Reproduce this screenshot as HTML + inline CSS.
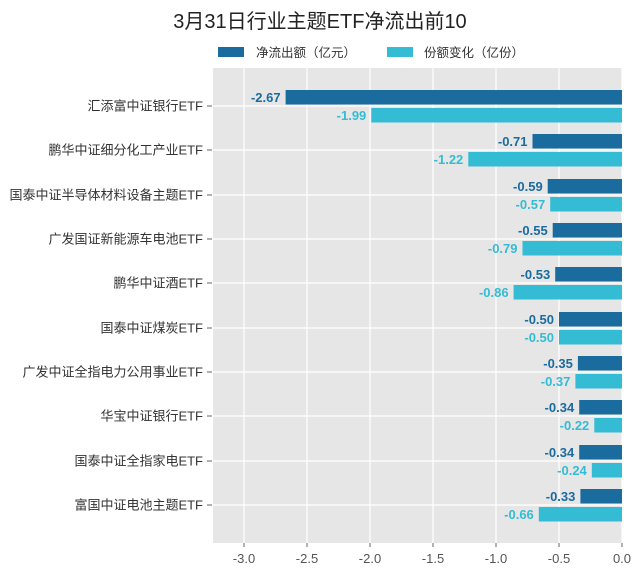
<!DOCTYPE html>
<html><head><meta charset="utf-8"><style>
body{margin:0;background:#fff;}
svg{display:block;font-family:"Liberation Sans","Noto Sans CJK SC",sans-serif;}
</style></head><body>
<svg width="640" height="578" xmlns="http://www.w3.org/2000/svg">
<rect width="640" height="578" fill="#fff"/>
<text x="320" y="28" font-size="20" text-anchor="middle" fill="#222">3月31日行业主题ETF净流出前10</text>
<rect x="218" y="47" width="26" height="10" fill="#1a6b9e"/>
<text x="256" y="57" font-size="12.5" fill="#333">净流出额（亿元）</text>
<rect x="387" y="47" width="26" height="10" fill="#33bcd4"/>
<text x="424" y="57" font-size="12.5" fill="#333">份额变化（亿份）</text>
<rect x="213" y="68" width="409" height="475" fill="#e6e6e6"/>
<g stroke="#fff" stroke-width="1.2">
<line x1="244" y1="68" x2="244" y2="543"/><line x1="307" y1="68" x2="307" y2="543"/>
<line x1="370" y1="68" x2="370" y2="543"/><line x1="433" y1="68" x2="433" y2="543"/>
<line x1="496" y1="68" x2="496" y2="543"/><line x1="559" y1="68" x2="559" y2="543"/>
<line x1="622" y1="68" x2="622" y2="543"/>
<line x1="213" x2="622" y1="106" y2="106"/><line x1="213" x2="622" y1="150" y2="150"/>
<line x1="213" x2="622" y1="195" y2="195"/><line x1="213" x2="622" y1="239" y2="239"/>
<line x1="213" x2="622" y1="283" y2="283"/><line x1="213" x2="622" y1="328" y2="328"/>
<line x1="213" x2="622" y1="372" y2="372"/><line x1="213" x2="622" y1="416" y2="416"/>
<line x1="213" x2="622" y1="461" y2="461"/><line x1="213" x2="622" y1="505" y2="505"/>
</g>
<g stroke="#666" stroke-width="1">
<line x1="244" y1="543" x2="244" y2="547"/><line x1="307" y1="543" x2="307" y2="547"/>
<line x1="370" y1="543" x2="370" y2="547"/><line x1="433" y1="543" x2="433" y2="547"/>
<line x1="496" y1="543" x2="496" y2="547"/><line x1="559" y1="543" x2="559" y2="547"/>
<line x1="622" y1="543" x2="622" y2="547"/>
<line x1="207" x2="212" y1="106" y2="106"/><line x1="207" x2="212" y1="150" y2="150"/>
<line x1="207" x2="212" y1="195" y2="195"/><line x1="207" x2="212" y1="239" y2="239"/>
<line x1="207" x2="212" y1="283" y2="283"/><line x1="207" x2="212" y1="328" y2="328"/>
<line x1="207" x2="212" y1="372" y2="372"/><line x1="207" x2="212" y1="416" y2="416"/>
<line x1="207" x2="212" y1="461" y2="461"/><line x1="207" x2="212" y1="505" y2="505"/>
</g>
<g font-size="13" fill="#555" text-anchor="middle">
<text x="244" y="563">-3.0</text><text x="307" y="563">-2.5</text><text x="370" y="563">-2.0</text>
<text x="433" y="563">-1.5</text><text x="496" y="563">-1.0</text><text x="559" y="563">-0.5</text>
<text x="622" y="563">0.0</text>
</g>
<g font-size="13" fill="#333" text-anchor="end">
<text x="203" y="110.5">汇添富中证银行ETF</text>
<text x="203" y="154.5">鹏华中证细分化工产业ETF</text>
<text x="203" y="199.5">国泰中证半导体材料设备主题ETF</text>
<text x="203" y="243.5">广发国证新能源车电池ETF</text>
<text x="203" y="287.5">鹏华中证酒ETF</text>
<text x="203" y="332.5">国泰中证煤炭ETF</text>
<text x="203" y="376.5">广发中证全指电力公用事业ETF</text>
<text x="203" y="420.5">华宝中证银行ETF</text>
<text x="203" y="465.5">国泰中证全指家电ETF</text>
<text x="203" y="509.5">富国中证电池主题ETF</text>
</g>
<g fill="#1a6b9e">
<rect x="285.6" y="90" width="336.4" height="14.5"/>
<rect x="532.5" y="134" width="89.5" height="14.5"/>
<rect x="547.7" y="179" width="74.3" height="14.5"/>
<rect x="552.7" y="223" width="69.3" height="14.5"/>
<rect x="555.2" y="267" width="66.8" height="14.5"/>
<rect x="559" y="312" width="63" height="14.5"/>
<rect x="577.9" y="356" width="44.1" height="14.5"/>
<rect x="579.2" y="400" width="42.8" height="14.5"/>
<rect x="579.2" y="445" width="42.8" height="14.5"/>
<rect x="580.4" y="489" width="41.6" height="14.5"/>
</g>
<g fill="#33bcd4">
<rect x="371.3" y="108" width="250.7" height="14.5"/>
<rect x="468.3" y="152" width="153.7" height="14.5"/>
<rect x="550.2" y="197" width="71.8" height="14.5"/>
<rect x="522.5" y="241" width="99.5" height="14.5"/>
<rect x="513.6" y="285" width="108.4" height="14.5"/>
<rect x="559" y="330" width="63" height="14.5"/>
<rect x="575.4" y="374" width="46.6" height="14.5"/>
<rect x="594.3" y="418" width="27.7" height="14.5"/>
<rect x="591.8" y="463" width="30.2" height="14.5"/>
<rect x="538.8" y="507" width="83.2" height="14.5"/>
</g>
<g font-size="13" font-weight="bold" fill="#1a6b9e" text-anchor="end">
<text x="280.6" y="102">-2.67</text>
<text x="527.5" y="146">-0.71</text>
<text x="542.7" y="191">-0.59</text>
<text x="547.7" y="235">-0.55</text>
<text x="550.2" y="279">-0.53</text>
<text x="554" y="324">-0.50</text>
<text x="572.9" y="368">-0.35</text>
<text x="574.2" y="412">-0.34</text>
<text x="574.2" y="457">-0.34</text>
<text x="575.4" y="501">-0.33</text>
</g>
<g font-size="13" font-weight="bold" fill="#33bcd4" text-anchor="end">
<text x="366.3" y="120">-1.99</text>
<text x="463.3" y="164">-1.22</text>
<text x="545.2" y="209">-0.57</text>
<text x="517.5" y="253">-0.79</text>
<text x="508.6" y="297">-0.86</text>
<text x="554" y="342">-0.50</text>
<text x="570.4" y="386">-0.37</text>
<text x="589.3" y="430">-0.22</text>
<text x="586.8" y="475">-0.24</text>
<text x="533.8" y="519">-0.66</text>
</g>
</svg>
</body></html>
